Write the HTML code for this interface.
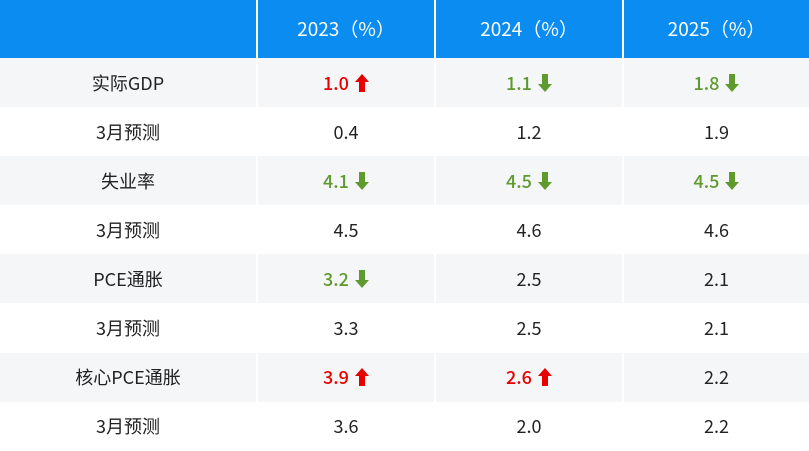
<!DOCTYPE html>
<html><head><meta charset="utf-8"><style>
body{margin:0;width:809px;height:451px;overflow:hidden;background:#fff;font-family:"Noto Sans CJK SC",sans-serif;}
table{border-collapse:collapse;width:809px;table-layout:fixed;}
td,th{text-align:center;padding:0;border-left:2px solid #fff;font-size:18px;color:#222;font-weight:normal;line-height:22px;}
td:first-child,th:first-child{border-left:none;}
th{background:#0a8cf0;color:#fff;height:58px;font-size:19px;}
td{height:49.1px;}
tr.g td{background:#f5f6f8;}
.r{color:#e60000;font-weight:500;}.gr{color:#5f9a2e;font-weight:500;}
svg{vertical-align:-2px;margin-left:6px;}
</style></head><body>
<table>
<colgroup><col style="width:257px"><col style="width:178px"><col style="width:188px"><col style="width:186px"></colgroup>
<tr><th></th><th>2023（%）</th><th>2024（%）</th><th>2025（%）</th></tr>
<tr class="g"><td>实际GDP</td><td class="r">1.0<svg width="14" height="18" viewBox="0 0 14 18"><path d="M7 0L14 8H10V18H4V8H0Z" fill="#e60000"/></svg></td><td class="gr">1.1<svg width="14" height="18" viewBox="0 0 14 18"><path d="M7 18L14 10H10V0H4V10H0Z" fill="#5f9a2e"/></svg></td><td class="gr">1.8<svg width="14" height="18" viewBox="0 0 14 18"><path d="M7 18L14 10H10V0H4V10H0Z" fill="#5f9a2e"/></svg></td></tr>
<tr><td>3月预测</td><td>0.4</td><td>1.2</td><td>1.9</td></tr>
<tr class="g"><td>失业率</td><td class="gr">4.1<svg width="14" height="18" viewBox="0 0 14 18"><path d="M7 18L14 10H10V0H4V10H0Z" fill="#5f9a2e"/></svg></td><td class="gr">4.5<svg width="14" height="18" viewBox="0 0 14 18"><path d="M7 18L14 10H10V0H4V10H0Z" fill="#5f9a2e"/></svg></td><td class="gr">4.5<svg width="14" height="18" viewBox="0 0 14 18"><path d="M7 18L14 10H10V0H4V10H0Z" fill="#5f9a2e"/></svg></td></tr>
<tr><td>3月预测</td><td>4.5</td><td>4.6</td><td>4.6</td></tr>
<tr class="g"><td>PCE通胀</td><td class="gr">3.2<svg width="14" height="18" viewBox="0 0 14 18"><path d="M7 18L14 10H10V0H4V10H0Z" fill="#5f9a2e"/></svg></td><td>2.5</td><td>2.1</td></tr>
<tr><td>3月预测</td><td>3.3</td><td>2.5</td><td>2.1</td></tr>
<tr class="g"><td>核心PCE通胀</td><td class="r">3.9<svg width="14" height="18" viewBox="0 0 14 18"><path d="M7 0L14 8H10V18H4V8H0Z" fill="#e60000"/></svg></td><td class="r">2.6<svg width="14" height="18" viewBox="0 0 14 18"><path d="M7 0L14 8H10V18H4V8H0Z" fill="#e60000"/></svg></td><td>2.2</td></tr>
<tr><td>3月预测</td><td>3.6</td><td>2.0</td><td>2.2</td></tr>
</table>
</body></html>
